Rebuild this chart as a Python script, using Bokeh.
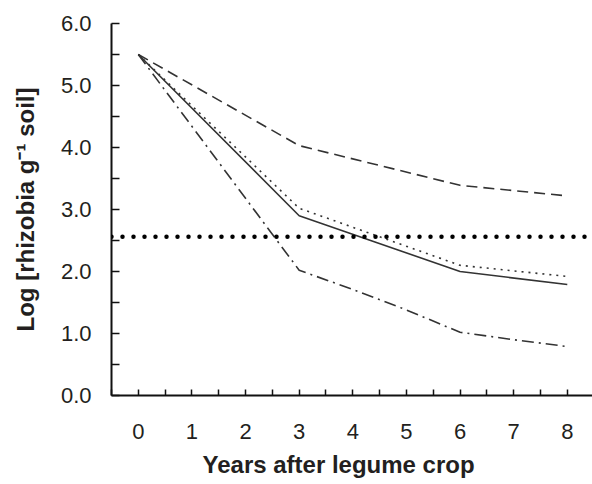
from bokeh.plotting import figure
from bokeh.models import FixedTicker, PrintfTickFormatter, Span, Title, Range1d
from bokeh.embed import file_html
from bokeh.resources import INLINE

# ---- data ----
years = [0, 3, 6, 8]
series_dashed = [5.50, 4.03, 3.39, 3.22]
series_solid = [5.50, 2.90, 2.00, 1.79]
series_dotted = [5.50, 3.02, 2.10, 1.92]
dd_years = [0, 3, 4, 5, 6, 7, 8]
series_dashdot = [5.50, 2.02, 1.71, 1.38, 1.02, 0.90, 0.79]
threshold = 2.56

x_ticks = [0, 1, 2, 3, 4, 5, 6, 7, 8]
x_minor = [-0.5, 0.5, 1.5, 2.5, 3.5, 4.5, 5.5, 6.5, 7.5, 8.5]
y_ticks = [0, 1, 2, 3, 4, 5, 6]
y_minor = [0.5, 1.5, 2.5, 3.5, 4.5, 5.5]

FONT = "Liberation Sans"
TXT = "#231f20"
LINE = "#333333"

p = figure(width=592, height=484, output_backend="svg", toolbar_location=None,
           x_range=Range1d(-0.5, 8.47), y_range=Range1d(0, 6.0),
           min_border_left=111, min_border_top=23, min_border_right=0,
           min_border_bottom=89)
p.outline_line_color = None
p.grid.visible = False
p.background_fill_color = "white"
p.border_fill_color = "white"

# axes
for ax in (p.xaxis[0], p.yaxis[0]):
    ax.axis_line_width = 2
    ax.axis_line_color = "#111111"
    ax.major_tick_line_color = "#111111"
    ax.minor_tick_line_color = "#111111"
    ax.major_tick_line_width = 1.5
    ax.minor_tick_line_width = 1.5
    ax.major_label_text_font = FONT
    ax.major_label_text_font_size = "22px"
    ax.major_label_text_color = TXT

p.xaxis.ticker = FixedTicker(ticks=x_ticks, minor_ticks=x_minor)
p.xaxis.major_tick_in = 6
p.xaxis.major_tick_out = 0
p.xaxis.minor_tick_in = 6
p.xaxis.minor_tick_out = 0
p.xaxis.major_label_standoff = 28

p.yaxis.ticker = FixedTicker(ticks=y_ticks, minor_ticks=y_minor)
p.yaxis.formatter = PrintfTickFormatter(format="%.1f")
p.yaxis.major_tick_in = 8
p.yaxis.major_tick_out = 0
p.yaxis.minor_tick_in = 8
p.yaxis.minor_tick_out = 0
p.yaxis.major_label_standoff = 20

p.yaxis.axis_label = "Log [rhizobia g\u207b\u00b9 soil]"
p.yaxis.axis_label_text_font = FONT
p.yaxis.axis_label_text_font_style = "bold"
p.yaxis.axis_label_text_font_size = "24px"
p.yaxis.axis_label_text_color = TXT
p.yaxis.axis_label_standoff = 19

# x title below the tick labels
p.add_layout(Title(text="Years after legume crop", align="left", offset=91,
                   text_font=FONT, text_font_style="bold", text_font_size="24px",
                   text_color=TXT, standoff=14), "below")

# threshold
p.add_layout(Span(location=threshold, dimension="width", line_color="black",
                  line_width=4.5, line_dash="0 11", line_cap="round"))

# series
p.line(years, series_dashed, line_color=LINE, line_width=1.6, line_dash="11 6")
p.line(years, series_solid, line_color=LINE, line_width=1.6)
p.line(years, series_dotted, line_color=LINE, line_width=1.6, line_dash="2 5")
p.line(dd_years, series_dashdot, line_color=LINE, line_width=1.6, line_dash="12 5 2 5")

open("out.html", "w").write(file_html(p, INLINE))
